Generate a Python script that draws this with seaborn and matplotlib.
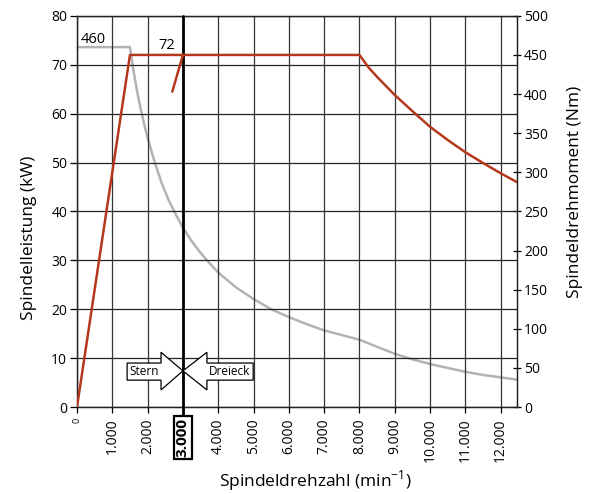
import matplotlib
matplotlib.use("Agg")
import matplotlib.pyplot as plt
import seaborn as sns
import pandas as pd
from matplotlib.patches import Polygon

# Leistung (kW) ueber Drehzahl, Dreieckbetrieb
power_rpm = [0, 1500, 8000, 8250, 8500, 9000, 9500, 10000, 10500, 11000,
             11500, 12000, 12460]
power_kw = [0, 72, 72, 69.5, 67.5, 63.8, 60.5, 57.3, 54.6, 52.1, 49.9, 47.8,
            46.0]

# kurzes Stueck Sternbetrieb
star_rpm = [2700, 3000]
star_kw = [64.5, 72]

# Drehmoment (Nm)
torque_rpm = [0, 1500, 1600, 1700, 1800, 1900, 2000, 2200, 2400, 2600, 2800,
              3000, 3250, 3500, 3750, 4000, 4500, 5000, 5500, 6000, 6500,
              7000, 7500, 8000, 8500, 9000, 9500, 10000, 10500, 11000, 11500,
              12000, 12460]
torque_nm = [460, 460, 430, 404, 382, 362, 344, 313, 286, 264, 246, 229, 212,
             197, 184, 172, 153, 138, 125, 115, 106, 98, 92, 86, 77, 68, 61,
             55, 50, 45, 41, 38, 35]

x_ticks = [0, 1000, 2000, 3000, 4000, 5000, 6000, 7000, 8000, 9000, 10000,
           11000, 12000]
x_labels = ["0", "1.000", "2.000", "3.000", "4.000", "5.000", "6.000",
            "7.000", "8.000", "9.000", "10.000", "11.000", "12.000"]
left_ticks = [0, 10, 20, 30, 40, 50, 60, 70, 80]
right_ticks = [0, 50, 100, 150, 200, 250, 300, 350, 400, 450, 500]

RED = "#b5381c"
GREY = "#b3b3b3"

sns.set_style("ticks")
plt.rcParams["font.family"] = ["Open Sans", "DejaVu Sans"]
plt.rcParams["mathtext.fontset"] = "custom"
plt.rcParams["mathtext.rm"] = "Open Sans"
plt.rcParams["text.color"] = "black"
plt.rcParams["axes.labelcolor"] = "black"
plt.rcParams["xtick.color"] = "black"
plt.rcParams["ytick.color"] = "black"

fig = plt.figure(figsize=(5.89, 4.94), dpi=100)
ax = fig.add_axes([0.1307, 0.176, 0.747, 0.792])
ax2 = ax.twinx()

# Gitter
for v in left_ticks:
    ax.axhline(v, color="#222222", lw=0.9, zorder=1)
for v in x_ticks:
    ax.axvline(v, color="#333333", lw=0.9, zorder=1)
ax.plot([3000, 3000], [-1.6, 80], color="black", lw=2.0, zorder=4,
        clip_on=False)

power = pd.DataFrame({"rpm": power_rpm, "kw": power_kw})
star = pd.DataFrame({"rpm": star_rpm, "kw": star_kw})
torque = pd.DataFrame({"rpm": torque_rpm, "nm": torque_nm})

sns.lineplot(data=torque, x="rpm", y="nm", ax=ax2, color=GREY, lw=1.8)
sns.lineplot(data=power, x="rpm", y="kw", ax=ax, color=RED, lw=1.8,
             zorder=5)
sns.lineplot(data=star, x="rpm", y="kw", ax=ax, color=RED, lw=1.8,
             zorder=5)

ax.set_xlim(0, 12460)
ax.set_ylim(0, 80)
ax2.set_ylim(0, 500)

ax.set_xticks(x_ticks)
ax.set_xticklabels(x_labels, rotation=90, fontsize=10)
ax.set_yticks(left_ticks)
ax.tick_params(axis="y", labelsize=10, length=5, width=0.9,
               direction="out", pad=2)
ax.tick_params(axis="x", length=4, width=0.9, direction="out", pad=4)
ax2.set_yticks(right_ticks)
ax2.tick_params(axis="y", labelsize=10, length=6, width=0.9,
                direction="inout", pad=2)

labels = ax.get_xticklabels()
labels[0].set_fontsize(6.5)
labels[3].set_fontweight("bold")
labels[3].set_fontsize(11)
labels[3].set_bbox(dict(boxstyle="square,pad=0.15", fc="white",
                        ec="black", lw=1.6))

for a in (ax, ax2):
    for s in a.spines.values():
        s.set_color("#222222")
        s.set_linewidth(0.9)

ax.set_xlabel("Spindeldrehzahl (min$^{\\mathregular{-1}}$)", fontsize=12.5)
ax.set_ylabel("Spindelleistung (kW)", fontsize=12.5)
ax2.set_ylabel("Spindeldrehmoment (Nm)", fontsize=12.5)
ax.xaxis.set_label_coords(0.541, -0.158)
ax.yaxis.set_label_coords(-0.092, 0.432)
ax2.yaxis.set_label_coords(1.113, 0.55)

ax.text(450, 75.2, "460", fontsize=10.5, ha="center", va="center",
        zorder=6)
ax.text(2550, 74.0, "72", fontsize=10.5, ha="center", va="center",
        zorder=6)

# Stern / Dreieck Pfeile
stern = Polygon([(1420, 5.5), (1420, 9.0), (2380, 9.0), (2380, 11.2),
                 (3000, 7.4), (2380, 3.5), (2380, 5.5)],
                closed=True, fc="white", ec="black", lw=0.9, zorder=6)
dreieck = Polygon([(4990, 5.5), (4990, 9.0), (3680, 9.0), (3680, 11.2),
                   (3000, 7.4), (3680, 3.5), (3680, 5.5)],
                  closed=True, fc="white", ec="black", lw=0.9, zorder=6)
ax.add_patch(stern)
ax.add_patch(dreieck)
ax.text(1900, 7.25, "Stern", fontsize=8.5, ha="center", va="center",
        zorder=7)
ax.text(4335, 7.25, "Dreieck", fontsize=8.5, ha="center", va="center",
        zorder=7)

ax2.set_zorder(ax.get_zorder() - 1)
ax.patch.set_visible(False)

fig.savefig("out.png", dpi=100)
